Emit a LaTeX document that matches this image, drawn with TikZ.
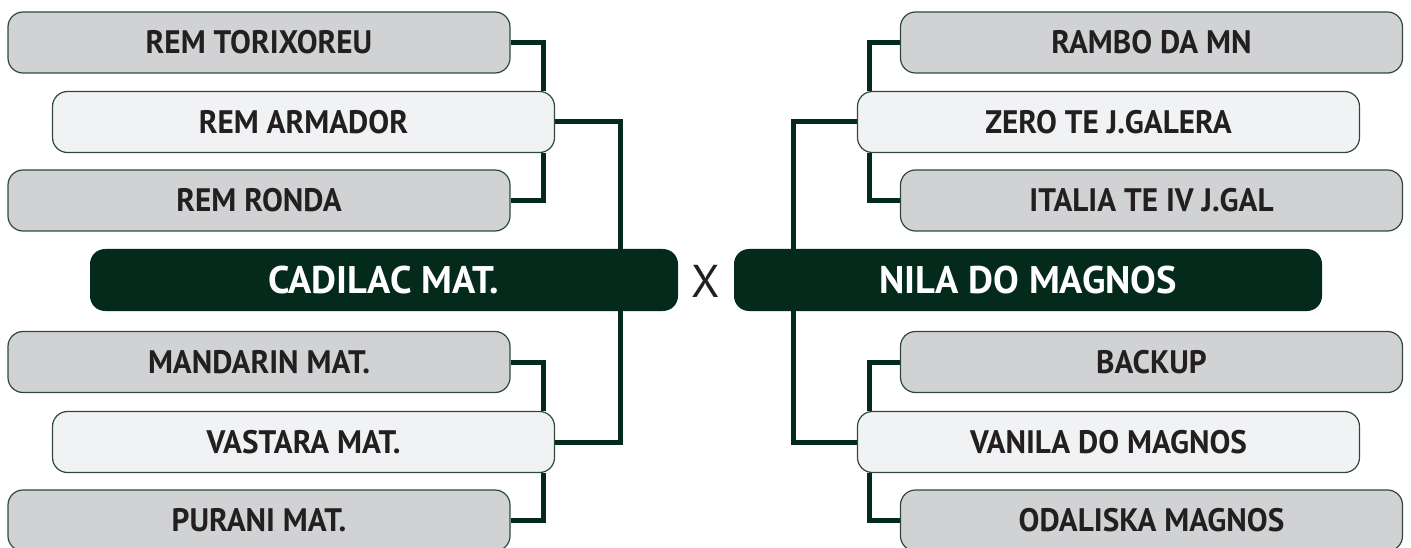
\documentclass[tikz,border=0pt]{standalone}
\usepackage{fontspec}
\setmainfont{PT Sans}
\newfontfamily\boxfont[FakeStretch=0.96]{PT Sans}
\usetikzlibrary{backgrounds}
\definecolor{dkgreen}{HTML}{032A1A}
\definecolor{bordergreen}{HTML}{2C4A38}
\definecolor{grayfill}{HTML}{D1D2D4}
\definecolor{lightfill}{HTML}{F1F2F4}
\definecolor{txt}{HTML}{231F20}
\tikzset{
  x=1pt,y=-1pt,
  gbox/.style={draw=bordergreen, line width=1.2pt, fill=grayfill, rounded corners=15pt,
    minimum width=502pt, minimum height=61pt, inner sep=0pt, text=txt,
    font=\boxfont\fontsize{32.5}{34}\selectfont\bfseries},
  lbox/.style={gbox, fill=lightfill},
  cbox/.style={fill=dkgreen, rounded corners=15pt, minimum width=588pt, minimum height=62pt,
    inner sep=0pt, text=white, font=\fontsize{38.5}{40}\selectfont\bfseries},
  conn/.style={draw=dkgreen, line width=5pt},
}
\begin{document}
\begin{tikzpicture}
\useasboundingbox (0,0) rectangle (1411,548);
% left side
\node[gbox] (t1) at (259,42.5) {REM TORIXOREU};
\node[lbox] (a1) at (303.5,122) {REM ARMADOR};
\node[gbox] (r1) at (259,200.5) {REM RONDA};
\node[cbox] (c1) at (384,280) {CADILAC MAT.};
\node[gbox] (m1) at (259,362) {MANDARIN MAT.};
\node[lbox] (v1) at (303.5,442) {VASTARA MAT.};
\node[gbox] (p1) at (259,520.5) {PURANI MAT.};
% right side
\node[gbox] (t2) at (1151.5,42.5) {RAMBO DA MN};
\node[lbox] (a2) at (1108.5,122) {ZERO TE J.GALERA};
\node[gbox] (r2) at (1151.5,200.5) {ITALIA TE IV J.GAL};
\node[cbox] (c2) at (1028,280) {NILA DO MAGNOS};
\node[gbox] (m2) at (1151.5,362) {BACKUP};
\node[lbox] (v2) at (1108.5,442) {VANILA DO MAGNOS};
\node[gbox] (p2) at (1151.5,520.5) {ODALISKA MAGNOS};
\node[text=txt, font=\fontsize{46}{48}\selectfont, inner sep=0pt] (vs) at (706,281) {X};
\begin{scope}[on background layer]
\draw[conn] (t1.east) -| ([xshift=-12pt]a1.north east);
\draw[conn] ([xshift=-12pt]a1.south east) |- (r1.east);
\draw[conn] (a1.east) -| ([xshift=-58pt]c1.north east);
\draw[conn] (m1.east) -| ([xshift=-12pt]v1.north east);
\draw[conn] ([xshift=-12pt]v1.south east) |- (p1.east);
\draw[conn] (v1.east) -| ([xshift=-58pt]c1.south east);
\draw[conn] (t2.west) -| ([xshift=13pt]a2.north west);
\draw[conn] ([xshift=13pt]a2.south west) |- (r2.west);
\draw[conn] (a2.west) -| ([xshift=60pt]c2.north west);
\draw[conn] (m2.west) -| ([xshift=13pt]v2.north west);
\draw[conn] ([xshift=13pt]v2.south west) |- (p2.west);
\draw[conn] (v2.west) -| ([xshift=60pt]c2.south west);
\end{scope}
\end{tikzpicture}
\end{document}
